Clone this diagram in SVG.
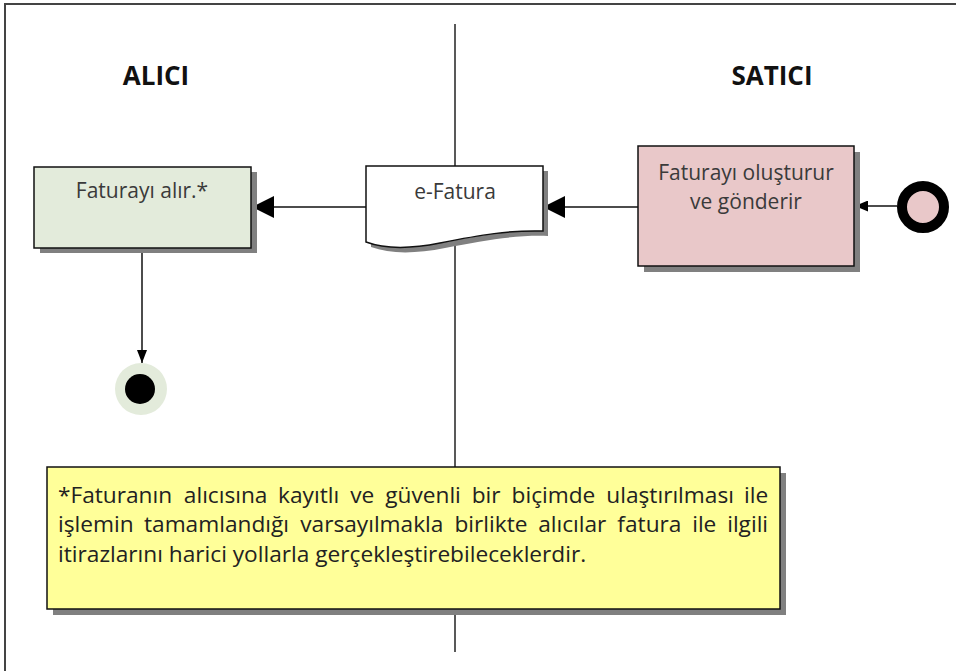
<svg xmlns="http://www.w3.org/2000/svg" width="956" height="671" viewBox="0 0 956 671">
  <defs>
    <style>
      .lbl { font-family: "Open Sans", "Liberation Sans", sans-serif; font-size: 21px; fill: #3a3a3a; }
      .hdr { font-family: "Open Sans", "Liberation Sans", sans-serif; font-size: 26px; font-weight: bold; fill: #111; }
      .note { font-family: "Open Sans", "Liberation Sans", sans-serif; font-size: 21px; fill: #222; }
      .box { stroke: #111; stroke-width: 1.5; }
      .shadow { fill: #808080; }
      .conn { stroke: #111; stroke-width: 1.5; fill: none; }
    </style>
    <marker id="bigArrow" markerUnits="userSpaceOnUse" markerWidth="22" markerHeight="22" refX="22" refY="11" orient="auto">
      <path d="M0,0 L22,11 L0,22 Z" fill="#000"/>
    </marker>
    <marker id="smallArrow" markerUnits="userSpaceOnUse" markerWidth="13" markerHeight="11" refX="13" refY="5.5" orient="auto">
      <path d="M0,0 L13,5.5 L0,11 Z" fill="#000"/>
    </marker>
    <marker id="midArrow" markerUnits="userSpaceOnUse" markerWidth="13" markerHeight="10" refX="13" refY="5" orient="auto">
      <path d="M0,0 L13,5 L0,10 Z" fill="#000"/>
    </marker>
  </defs>

  <rect width="956" height="671" fill="#fff"/>
  <!-- outer frame -->
  <rect x="5" y="4" width="1000" height="720" fill="none" stroke="#444" stroke-width="2"/>

  <!-- lane divider -->
  <line x1="455" y1="24" x2="455" y2="652" stroke="#222" stroke-width="1.5"/>

  <g id="lane-alici"><text class="hdr" x="156" y="85" text-anchor="middle">ALICI</text></g>
  <g id="lane-satici"><text class="hdr" x="772" y="85" text-anchor="middle">SATICI</text></g>

  <g id="connectors">
    <path class="conn" d="M897,206 H855" marker-end="url(#smallArrow)"/>
    <path class="conn" d="M638,207 H543" marker-end="url(#bigArrow)"/>
    <path class="conn" d="M366,207 H252" marker-end="url(#bigArrow)"/>
    <path class="conn" d="M142,248 V363" marker-end="url(#midArrow)"/>
  </g>

  <g id="node-fatura-alir">
    <rect class="shadow" x="40" y="172" width="217" height="81"/>
    <rect class="box" x="34" y="167" width="217" height="81" fill="#e3ebdb"/>
    <text class="lbl" x="142" y="198" text-anchor="middle">Faturayı alır.*</text>
  </g>

  <g id="node-efatura">
    <path class="shadow" d="M371,171 H548 V236 C515,235 485,240 445,248 C415,254 390,254 371,247 Z"/>
    <path class="box" d="M366,166 H543 V231 C510,230 480,235 440,243 C410,249 385,249 366,242 Z" fill="#fff"/>
    <text class="lbl" x="455" y="199" text-anchor="middle">e-Fatura</text>
  </g>

  <g id="node-fatura-olusturur">
    <rect class="shadow" x="644" y="152" width="216" height="120"/>
    <rect class="box" x="638" y="146" width="216" height="120" fill="#e9c8c9"/>
    <text class="lbl" x="746" y="180" text-anchor="middle">Faturayı oluşturur</text>
    <text class="lbl" x="746" y="209" text-anchor="middle">ve gönderir</text>
  </g>

  <g id="node-start">
    <circle cx="923" cy="207" r="21" fill="#e9c8c9" stroke="#000" stroke-width="10"/>
  </g>

  <g id="node-end">
    <circle cx="141" cy="389" r="26" fill="#e3ebdb"/>
    <circle cx="140" cy="389" r="15" fill="#000"/>
  </g>

  <g id="node-note">
    <rect class="shadow" x="53" y="473" width="733" height="142"/>
    <rect class="box" x="47" y="467" width="733" height="142" fill="#ffff99"/>
    <g transform="translate(58,0) scale(1.08,1) translate(-58,0)">
      <text class="note" y="503"><tspan x="58">*Faturanın</tspan><tspan x="174.5">alıcısına</tspan><tspan x="261.8">kayıtlı</tspan><tspan x="328.5">ve</tspan><tspan x="361">güvenli</tspan><tspan x="441.1">bir</tspan><tspan x="478">biçimde</tspan><tspan x="565.7">ulaştırılması</tspan><tspan x="693.3">ile</tspan></text>
      <text class="note" y="532"><tspan x="58">işlemin</tspan><tspan x="137.6">tamamlandığı</tspan><tspan x="282.3">varsayılmakla</tspan><tspan x="425.1">birlikte</tspan><tspan x="502.6">alıcılar</tspan><tspan x="575.9">fatura</tspan><tspan x="645.2">ile</tspan><tspan x="677.6">ilgili</tspan></text>
      <text class="note" x="58" y="562">itirazlarını harici yollarla gerçekleştirebileceklerdir.</text>
    </g>
  </g>
</svg>
